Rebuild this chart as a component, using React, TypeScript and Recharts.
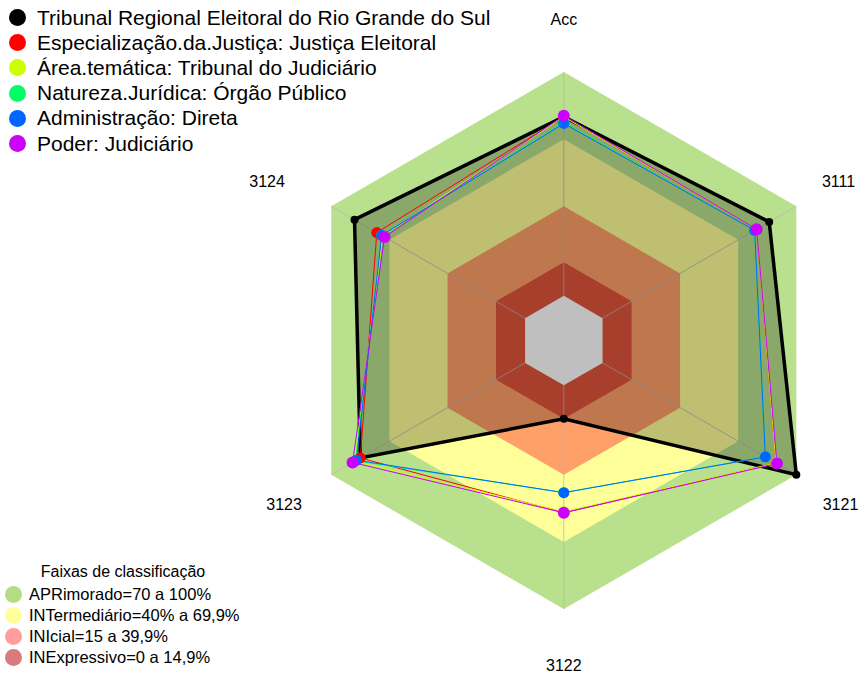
import { PolarAngleAxis, PolarGrid, PolarRadiusAxis, Radar, RadarChart } from 'recharts'

const axes = ['Acc', '3111', '3121', '3122', '3123', '3124']

const tribunalRS = [80, 86, 100, 15, 85, 88]
const justicaEleitoral = [80, 79.5, 89.5, 57, 85, 76.5]
const tribunalJudiciario = [80, 79.5, 89.5, 56.5, 88, 73.5]
const orgaoPublico = [77.5, 78.5, 84, 48, 87.5, 74]
const administracaoDireta = [77, 78.5, 84, 48, 87, 74]
const poderJudiciario = [80.5, 79.5, 90, 57, 89, 72.5]

const bandLimits = [100, 70, 40, 15, 0]
const bandColors = ['#b9e08c', '#ffff99', '#ffa068', '#e0553b', '#ffffff']
const radialDomain: [number, number] = [-20, 100]

const series = [
  { key: 's0', name: 'Tribunal Regional Eleitoral do Rio Grande do Sul', color: '#000000', values: tribunalRS },
  { key: 's1', name: 'Especialização.da.Justiça: Justiça Eleitoral', color: '#ff0000', values: justicaEleitoral },
  { key: 's2', name: 'Área.temática: Tribunal do Judiciário', color: '#ccff00', values: tribunalJudiciario },
  { key: 's3', name: 'Natureza.Jurídica: Órgão Público', color: '#00ff66', values: orgaoPublico },
  { key: 's4', name: 'Administração: Direta', color: '#0066ff', values: administracaoDireta },
  { key: 's5', name: 'Poder: Judiciário', color: '#cc00ff', values: poderJudiciario },
]

const faixas = [
  { label: 'APRimorado=70 a 100%', color: '#b4dc82' },
  { label: 'INTermediário=40% a 69,9%', color: '#ffff99' },
  { label: 'INIcial=15 a 39,9%', color: '#ff9c9c' },
  { label: 'INExpressivo=0 a 14,9%', color: '#d97b7b' },
]

const data = axes.map((axis, i) => {
  const row: Record<string, number | string> = { axis }
  series.forEach((s) => (row[s.key] = s.values[i]))
  bandLimits.forEach((b) => (row[`b${b}`] = b))
  return row
})

const W = 863
const H = 673
const CX = 563.8
const CY = 340.5
const R = 268.5
const font = '"Liberation Sans", Arial, sans-serif'

// small nudges so the labels sit where the original put them
const labelNudge: Record<string, number> = { '3111': -5, '3121': -3, '3124': -17 }

function AxisTick(props: any) {
  const { x, y, payload } = props
  const dx = x - CX
  const dy = y - CY
  const len = Math.hypot(dx, dy) || 1
  const lr = 323
  return (
    <text
      x={CX + (dx / len) * lr + (labelNudge[payload.value] ?? 0)}
      y={CY + (dy / len) * lr + 2}
      textAnchor="middle"
      dominantBaseline="central"
      fontSize={16}
      fill="#000"
      fontFamily={font}
    >
      {payload.value}
    </text>
  )
}

const makeDot = (color: string, r: number) => (p: any) => (
  <circle key={`${color}-${p.index}`} cx={p.cx} cy={p.cy} r={r} fill={color} stroke="none" />
)

export default function App() {
  return (
    <div style={{ position: 'absolute', left: 0, top: 0, width: W, height: H, background: '#fff', fontFamily: font }}>
      <RadarChart width={W} height={H} data={data} cx={CX} cy={CY} outerRadius={R} margin={{ top: 0, right: 0, bottom: 0, left: 0 }}>
        <PolarRadiusAxis domain={radialDomain} tick={false} axisLine={false} tickCount={2} />
        {bandLimits.slice(0, 4).map((b, i) => (
          <Radar key={b} dataKey={`b${b}`} fill={bandColors[i]} fillOpacity={1} stroke="none" dot={false} legendType="none" isAnimationActive={false} zIndex={100 + i} />
        ))}
        <PolarGrid gridType="polygon" radialLines polarRadius={[]} stroke="#b8b8b8" strokeOpacity={0.8} zIndex={110} />
        <Radar dataKey="b0" fill="#ffffff" fillOpacity={1} stroke="none" dot={false} legendType="none" isAnimationActive={false} zIndex={120} />
        {series.map((s, i) => (
          <Radar
            key={s.key}
            dataKey={s.key}
            name={s.name}
            stroke={s.color}
            strokeWidth={i === 0 ? 3.5 : 1}
            fill={i === 0 ? '#000000' : 'none'}
            fillOpacity={i === 0 ? 0.25 : 0}
            dot={makeDot(s.color, i === 0 ? 4 : i === 5 ? 6 : 5.5)}
            isAnimationActive={false}
            zIndex={130 + i}
          />
        ))}
        <PolarAngleAxis dataKey="axis" axisLine={false} tickLine={false} tick={<AxisTick />} />
      </RadarChart>

      <div style={{ position: 'absolute', left: 9, top: 5 }}>
        {series.map((s) => (
          <div key={s.key} style={{ display: 'flex', alignItems: 'center', height: 25.2, fontSize: 21, color: '#000', whiteSpace: 'nowrap' }}>
            <span style={{ width: 17, height: 17, borderRadius: '50%', background: s.color, display: 'inline-block', marginRight: 11 }} />
            {s.name}
          </div>
        ))}
      </div>

      <div style={{ position: 'absolute', left: 5, top: 561 }}>
        <div style={{ fontSize: 16, color: '#000', width: 236, textAlign: 'center', height: 23, lineHeight: '22px' }}>Faixas de classificação</div>
        {faixas.map((f) => (
          <div key={f.label} style={{ display: 'flex', alignItems: 'center', height: 21, fontSize: 16.5, color: '#000', whiteSpace: 'nowrap' }}>
            <span style={{ width: 17, height: 17, borderRadius: '50%', background: f.color, display: 'inline-block', marginRight: 7 }} />
            {f.label}
          </div>
        ))}
      </div>
    </div>
  )
}
